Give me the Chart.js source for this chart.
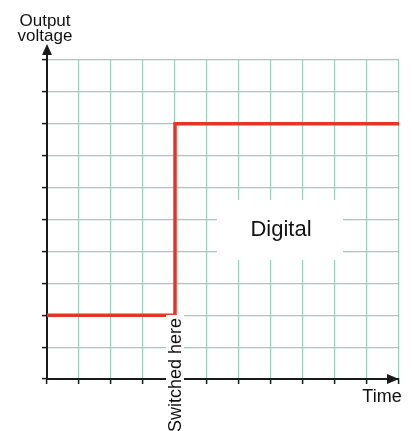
<!DOCTYPE html>
<html>
<head>
<meta charset="utf-8">
<script src="https://cdn.jsdelivr.net/npm/chart.js@4.4.0/dist/chart.umd.min.js"></script>
<style>
  html, body { margin: 0; padding: 0; background: #fff; }
  #wrap { width: 413px; height: 431px; position: relative; }
</style>
</head>
<body>
<div id="wrap"><canvas id="myChart" width="413" height="431"></canvas></div>
<script>
// step signal: time (grid cells) and output voltage (grid cells)
const time = [0, 4, 4, 11];
const voltage = [2, 2, 8, 8];
const switchAt = 4;
const xMax = 11;
const yMax = 10;

const gridColor = "#98cfba";
const axisColor = "#1a1a1a";

// arrows, axis names and the two text labels
const decorations = {
  id: "decorations",
  afterDraw(chart) {
    const ctx = chart.ctx;
    const area = chart.chartArea;
    const xs = chart.scales.x;
    ctx.save();

    // y arrow
    ctx.strokeStyle = axisColor;
    ctx.lineWidth = 2;
    ctx.beginPath();
    ctx.moveTo(area.left, area.top);
    ctx.lineTo(area.left, area.top - 6);
    ctx.stroke();
    ctx.fillStyle = axisColor;
    ctx.beginPath();
    ctx.moveTo(area.left, area.top - 16);
    ctx.lineTo(area.left - 5, area.top - 5);
    ctx.lineTo(area.left + 5, area.top - 5);
    ctx.closePath();
    ctx.fill();

    // x arrow
    ctx.beginPath();
    ctx.moveTo(area.right, area.bottom);
    ctx.lineTo(area.right - 12, area.bottom - 5);
    ctx.lineTo(area.right - 12, area.bottom + 5);
    ctx.closePath();
    ctx.fill();

    ctx.font = "17px 'Liberation Sans', Arial, sans-serif";
    ctx.fillStyle = "#111";
    ctx.textAlign = "center";
    ctx.textBaseline = "alphabetic";
    ctx.fillText("Output", 45, 26);
    ctx.fillText("voltage", 45, 41);
    ctx.font = "18px 'Liberation Sans', Arial, sans-serif";
    ctx.fillText("Time", 382, 402);

    // Digital box
    ctx.fillStyle = "#fff";
    ctx.fillRect(217, 200, 126, 60);
    ctx.fillStyle = "#111";
    ctx.font = "22px 'Liberation Sans', Arial, sans-serif";
    ctx.fillText("Digital", 281, 236);

    // Switched here (rotated)
    const sx = xs.getPixelForValue(switchAt);
    ctx.translate(sx, 375);
    ctx.rotate(-Math.PI / 2);
    ctx.font = "18px 'Liberation Sans', Arial, sans-serif";
    const w = ctx.measureText("Switched here").width;
    ctx.fillStyle = "#fff";
    ctx.fillRect(-w / 2 - 3, -9, w + 6, 18);
    ctx.fillStyle = "#111";
    ctx.textBaseline = "middle";
    ctx.fillText("Switched here", 0, 1);
    ctx.restore();
  }
};

const data = {
  datasets: [
    {
      data: time.map((t, i) => ({ x: t, y: voltage[i] })),
      borderColor: "#e5352b",
      borderWidth: 3.5,
      pointRadius: 0,
      fill: false,
      tension: 0,
      borderJoinStyle: "miter",
    },
  ],
};

const config = {
  type: "line",
  data: data,
  options: {
    responsive: false,
    animation: false,
    layout: { padding: { left: 42, right: 14, top: 60, bottom: 47 } },
    plugins: { legend: { display: false }, tooltip: { enabled: false } },
    scales: {
      x: {
        type: "linear",
        min: 0,
        max: xMax,
        ticks: { display: false, stepSize: 1 },
        grid: { color: gridColor, lineWidth: 1.2, tickLength: 5, tickColor: axisColor, tickWidth: 1.5 },
        border: { color: axisColor, width: 2 },
      },
      y: {
        min: 0,
        max: yMax,
        ticks: { display: false, stepSize: 1 },
        grid: { color: gridColor, lineWidth: 1.2, tickLength: 5, tickColor: axisColor, tickWidth: 1.5 },
        border: { color: axisColor, width: 2 },
      },
    },
  },
  plugins: [decorations],
};

const myChart = new Chart(document.getElementById("myChart"), config);
</script>
</body>
</html>
